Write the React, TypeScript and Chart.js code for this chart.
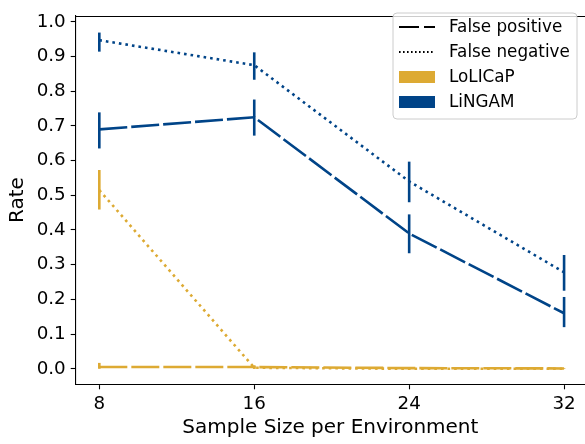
import React, { useEffect, useRef } from "react";
import { Chart, registerables } from "chart.js";

Chart.register(...registerables);

const sampleSizes = [8, 16, 24, 32];
const xTickValues = [8, 16, 24, 32];
const yTickValues = [0, 0.1, 0.2, 0.3, 0.4, 0.5, 0.6, 0.7, 0.8, 0.9, 1.0];

const lolicapFP = [0.005, 0.005, 0.002, 0.001];
const lolicapFPLow = [0.0, 0.0, 0.0, 0.0];
const lolicapFPHigh = [0.017, 0.01, 0.004, 0.002];

const lolicapFN = [0.515, 0.003, 0.0, 0.0];
const lolicapFNLow = [0.459, 0.0, 0.0, 0.0];
const lolicapFNHigh = [0.573, 0.008, 0.0, 0.0];

const lingamFP = [0.69, 0.725, 0.39, 0.16];
const lingamFPLow = [0.635, 0.672, 0.333, 0.12];
const lingamFPHigh = [0.739, 0.776, 0.445, 0.207];

const lingamFN = [0.947, 0.875, 0.54, 0.278];
const lingamFNLow = [0.914, 0.833, 0.48, 0.225];
const lingamFNHigh = [0.969, 0.912, 0.597, 0.328];

const GOLD = "#DDAA33";
const BLUE = "#004488";
const DASH = [28, 4];
const DOT = [2.6, 4];
const FONT = "'DejaVu Sans', sans-serif";

const errorBarPlugin = {
  id: "errorBars",
  afterDatasetsDraw(chart: any) {
    const ctx = chart.ctx;
    const xs = chart.scales.x;
    const ys = chart.scales.y;
    chart.data.datasets.forEach((ds: any) => {
      ctx.save();
      ctx.strokeStyle = ds.borderColor;
      ctx.lineWidth = 2.6;
      ctx.setLineDash([]);
      ctx.lineCap = "butt";
      ds.data.forEach((p: any, i: number) => {
        const x = xs.getPixelForValue(p.x);
        const y1 = ys.getPixelForValue(ds.errLow[i]);
        const y2 = ys.getPixelForValue(ds.errHigh[i]);
        ctx.beginPath();
        ctx.moveTo(x, y1);
        ctx.lineTo(x, y2);
        ctx.stroke();
      });
      ctx.restore();
    });
  },
};

const framePlugin = {
  id: "frame",
  afterDraw(chart: any) {
    const { ctx, chartArea } = chart;
    ctx.save();
    ctx.strokeStyle = "#000";
    ctx.lineWidth = 1.1;
    ctx.beginPath();
    ctx.moveTo(chartArea.left, chartArea.top + 0.5);
    ctx.lineTo(chartArea.right, chartArea.top + 0.5);
    ctx.stroke();
    ctx.restore();
  },
};

const legendItems = [
  { label: "False positive", kind: "line", dash: [20, 5], color: "#000" },
  { label: "False negative", kind: "line", dash: [1.6, 2.4], color: "#000" },
  { label: "LoLICaP", kind: "patch", color: GOLD },
  { label: "LiNGAM", kind: "patch", color: BLUE },
];

const legendPlugin = {
  id: "customLegend",
  afterDraw(chart: any) {
    const ctx = chart.ctx;
    const x0 = 393, y0 = 13, w = 184, h = 106, r = 4;
    ctx.save();
    ctx.beginPath();
    ctx.moveTo(x0 + r, y0);
    ctx.lineTo(x0 + w - r, y0);
    ctx.quadraticCurveTo(x0 + w, y0, x0 + w, y0 + r);
    ctx.lineTo(x0 + w, y0 + h - r);
    ctx.quadraticCurveTo(x0 + w, y0 + h, x0 + w - r, y0 + h);
    ctx.lineTo(x0 + r, y0 + h);
    ctx.quadraticCurveTo(x0, y0 + h, x0, y0 + h - r);
    ctx.lineTo(x0, y0 + r);
    ctx.quadraticCurveTo(x0, y0, x0 + r, y0);
    ctx.closePath();
    ctx.fillStyle = "rgba(255,255,255,0.8)";
    ctx.fill();
    ctx.strokeStyle = "#cccccc";
    ctx.lineWidth = 1;
    ctx.stroke();

    legendItems.forEach((it, i) => {
      const cy = 27 + i * 25;
      if (it.kind === "line") {
        ctx.strokeStyle = it.color;
        ctx.lineWidth = 2;
        ctx.setLineDash(it.dash as number[]);
        ctx.beginPath();
        ctx.moveTo(399, cy);
        ctx.lineTo(435, cy);
        ctx.stroke();
        ctx.setLineDash([]);
      } else {
        ctx.fillStyle = it.color;
        ctx.fillRect(399, cy - 6, 36, 12);
      }
      ctx.fillStyle = "#000";
      ctx.font = `16.8px ${FONT}`;
      ctx.textBaseline = "middle";
      ctx.textAlign = "left";
      ctx.fillText(it.label, 449, cy + 1);
    });
    ctx.restore();
  },
};

function makeDataset(values: number[], low: number[], high: number[], color: string, dash: number[]) {
  return {
    data: sampleSizes.map((x, i) => ({ x, y: values[i] })),
    errLow: low,
    errHigh: high,
    borderColor: color,
    backgroundColor: color,
    borderWidth: 2.6,
    borderDash: dash,
    pointRadius: 0,
    tension: 0,
    fill: false,
  } as any;
}

export default function App() {
  const canvasRef = useRef<HTMLCanvasElement | null>(null);

  useEffect(() => {
    if (!canvasRef.current) return;
    const chart = new Chart(canvasRef.current, {
      type: "line",
      data: {
        datasets: [
          makeDataset(lolicapFP, lolicapFPLow, lolicapFPHigh, GOLD, DASH),
          makeDataset(lolicapFN, lolicapFNLow, lolicapFNHigh, GOLD, DOT),
          makeDataset(lingamFP, lingamFPLow, lingamFPHigh, BLUE, DASH),
          makeDataset(lingamFN, lingamFNLow, lingamFNHigh, BLUE, DOT),
        ],
      },
      options: {
        animation: false,
        responsive: false,
        maintainAspectRatio: false,
        layout: { padding: { top: 4.7, right: 0, bottom: 0, left: 0 } },
        plugins: { legend: { display: false }, tooltip: { enabled: false } },
        scales: {
          x: {
            type: "linear",
            min: 6.78,
            max: 33.08,
            afterBuildTicks: (scale: any) => {
              scale.ticks = xTickValues.map((v) => ({ value: v }));
            },
            afterFit: (scale: any) => {
              scale.height = 444 - 384.3 - 0;
            },
            grid: {
              drawOnChartArea: false,
              drawTicks: true,
              tickLength: 5,
              tickColor: "#000",
              tickWidth: 1.1,
            },
            border: { display: true, color: "#000", width: 1.1 },
            ticks: {
              color: "#000",
              font: { family: FONT, size: 18.3 },
              padding: 4,
              maxRotation: 0,
              callback: (v: any) => String(v),
            },
            title: {
              display: true,
              text: "Sample Size per Environment",
              color: "#000",
              font: { family: FONT, size: 20 },
              padding: { top: 0, bottom: 4 },
            },
          },
          y: {
            type: "linear",
            min: -0.0447,
            max: 1.0168,
            afterBuildTicks: (scale: any) => {
              scale.ticks = yTickValues.map((v) => ({ value: v }));
            },
            afterFit: (scale: any) => {
              scale.width = 75.7;
            },
            grid: {
              drawOnChartArea: false,
              drawTicks: true,
              tickLength: 5,
              tickColor: "#000",
              tickWidth: 1.1,
            },
            border: { display: true, color: "#000", width: 1.1 },
            ticks: {
              color: "#000",
              font: { family: FONT, size: 18.3 },
              padding: 5,
              callback: (v: any) => Number(v).toFixed(1),
            },
            title: {
              display: true,
              text: "Rate",
              color: "#000",
              font: { family: FONT, size: 20 },
              padding: { top: 6, bottom: 0 },
            },
          },
        },
      },
      plugins: [errorBarPlugin, framePlugin, legendPlugin],
    } as any);
    return () => chart.destroy();
  }, []);

  return (
    <div style={{ position: "fixed", left: 0, top: 0, width: 585, height: 444, background: "#fff" }}>
      <canvas ref={canvasRef} width={585} height={444} style={{ display: "block", width: 585, height: 444 }} />
    </div>
  );
}
